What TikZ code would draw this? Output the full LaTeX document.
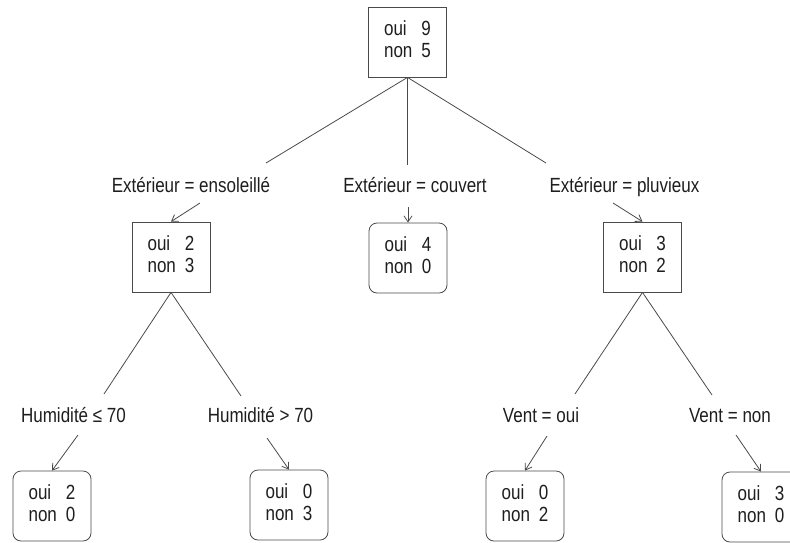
\documentclass[tikz,border=0pt]{standalone}
\usepackage{fontspec}
\setmainfont{Liberation Sans}[FakeStretch=0.83]
\usetikzlibrary{arrows.meta}
\definecolor{ink}{HTML}{1E1E1E}
\definecolor{edge}{HTML}{4A4A4A}
\newcommand{\counts}[2]{%
  \begin{tabular}{@{}l@{\hspace{9pt}}r@{}}oui & #1\\ non & #2\end{tabular}}
\tikzset{
  treefont/.style={font=\fontsize{20.5}{22.5}\selectfont, text=ink},
  splitbox/.style={draw=edge, line width=0.8pt, treefont, minimum width=78pt,
    minimum height=70pt, inner sep=0pt, align=center},
  leafbox/.style={splitbox, rounded corners=8pt},
  rule/.style={treefont, anchor=base, inner sep=0pt},
  branch/.style={draw=edge, line width=0.8pt},
  pointer/.style={branch, -{Straight Barb[length=6pt,width=8pt]}}
}
\begin{document}
\begin{tikzpicture}[x=1pt, y=-1pt]
  \fill[white] (0,0) rectangle (790,542);
  \useasboundingbox (0,0) rectangle (790,542);

  % tree nodes
  \node[splitbox] (root) at (407.5,42) {\counts{9}{5}};
  \node[splitbox] (sun)  at (171,257)  {\counts{2}{3}};
  \node[leafbox]  (cov)  at (408,258)  {\counts{4}{0}};
  \node[splitbox] (rain) at (642.5,257) {\counts{3}{2}};
  \node[leafbox]  (hlo)  at (52,506)   {\counts{2}{0}};
  \node[leafbox]  (hhi)  at (289,505)  {\counts{0}{3}};
  \node[leafbox]  (wyes) at (525,506)  {\counts{0}{2}};
  \node[leafbox]  (wno)  at (761,507)  {\counts{3}{0}};

  % split rules
  \node[rule] (rsun)  at (191,192)   {Extérieur = ensoleillé};
  \node[rule] (rcov)  at (415,192)   {Extérieur = couvert};
  \node[rule] (rrain) at (624.5,192) {Extérieur = pluvieux};
  \node[rule] (rhlo)  at (73.5,422)  {Humidité ≤ 70};
  \node[rule] (rhhi)  at (260.5,422) {Humidité > 70};
  \node[rule] (rwyes) at (541,422)   {Vent = oui};
  \node[rule] (rwno)  at (730,422)   {Vent = non};

  % branch ends above the rules
  \coordinate (esun)  at (266,163);
  \coordinate (ecov)  at (407.5,165);
  \coordinate (erain) at (546,163);
  \coordinate (ehlo)  at (104,394);
  \coordinate (ehhi)  at (241,396);
  \coordinate (ewyes) at (575,394);
  \coordinate (ewno)  at (712,395);

  % pointer starts below the rules
  \coordinate (psun)  at (200,203);
  \coordinate (pcov)  at (408,207);
  \coordinate (prain) at (613,203);
  \coordinate (phlo)  at (78,435);
  \coordinate (phhi)  at (267,438);
  \coordinate (pwyes) at (547,436);
  \coordinate (pwno)  at (736,435);

  \draw[branch] (root.south) -- (esun);
  \draw[branch] (root.south) -- (ecov);
  \draw[branch] (root.south) -- (erain);
  \draw[branch] (sun.south) -- (ehlo);
  \draw[branch] (sun.south) -- (ehhi);
  \draw[branch] (rain.south) -- (ewyes);
  \draw[branch] (rain.south) -- (ewno);

  \draw[pointer] (psun) -- (sun.north);
  \draw[pointer] (pcov) -- (cov.north);
  \draw[pointer] (prain) -- (rain.north);
  \draw[pointer] (phlo) -- (hlo.north);
  \draw[pointer] (phhi) -- (hhi.north);
  \draw[pointer] (pwyes) -- (wyes.north);
  \draw[pointer] (pwno) -- (wno.north);
\end{tikzpicture}
\end{document}
